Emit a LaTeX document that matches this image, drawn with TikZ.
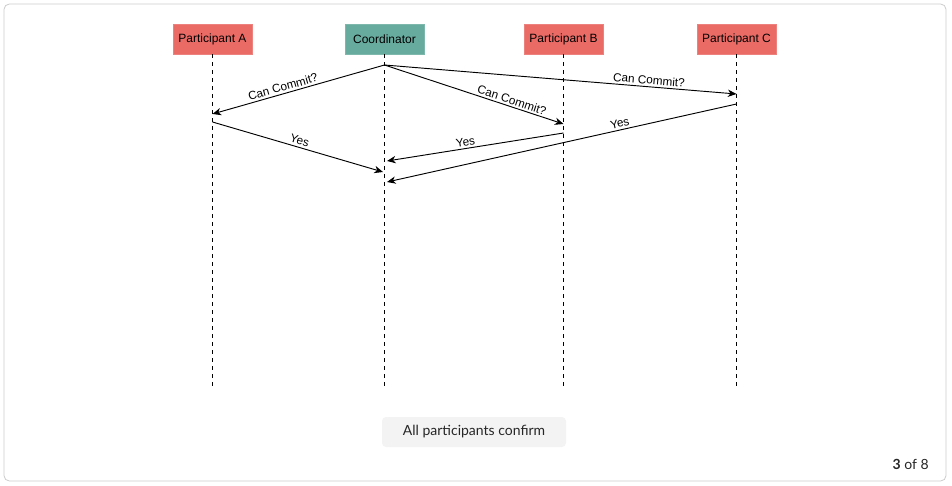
\documentclass[tikz,border=0pt]{standalone}
\usepackage{fontspec}
\setmainfont{Liberation Sans}
\newfontfamily\uifont{Lato}
\usetikzlibrary{arrows.meta}
\definecolor{partred}{HTML}{EA6B66}
\definecolor{coordteal}{HTML}{67AB9F}
\definecolor{btngray}{HTML}{F3F3F3}
\begin{document}
\begin{tikzpicture}
    [ x=.75pt, y=-.75pt, font=\fontsize{9}{10}\selectfont,
      actor/.style={fill=#1, draw=#1!85!white, minimum width=59.25pt,
                    minimum height=22.5pt, inner sep=0pt},
      lifeline/.style={dashed, line width=.6pt},
      msg/.style={-{Stealth[length=6.5pt,width=5.5pt,inset=2pt]}, line width=.7pt},
      lbl/.style={sloped, above, inner sep=1.5pt, font=\fontsize{8.8}{10}\selectfont},
    ]
    \useasboundingbox (0,0) rectangle (952,485);
    \draw[rounded corners=4pt, draw=black!20, line width=.6pt] (4,4) rectangle (946,481);

    % participants and their lifelines
    \foreach \n / \x / \col / \txt in {A/212.5/partred/Participant A,
                                      K/384.5/coordteal/Coordinator,
                                      B/563.5/partred/Participant B,
                                      C/736.5/partred/Participant C} {
        \node[actor=\col] (\n) at (\x, 39) {\txt};
        \coordinate (\n end) at (\x, 390);
        \draw[lifeline] (\n) -- (\n end);
    }

    % phase one: ask
    \coordinate (ask) at (384.5, 65);
    \coordinate (askA) at (212.5, 114);
    \coordinate (askB) at (563.5, 124);
    \coordinate (askC) at (736.5, 94);
    \draw[msg] (ask) -- (askA) node [lbl, pos=.58] {Can Commit?};
    \draw[msg] (ask) -- (askB) node [lbl, pos=.70] {Can Commit?};
    \draw[msg] (ask) -- (askC) node [lbl, pos=.75] {Can Commit?};

    % phase one: vote
    \coordinate (yesA) at (212.5, 122);
    \coordinate (yesB) at (563.5, 133);
    \coordinate (yesC) at (736.5, 104);
    \coordinate (gotA) at (383, 172);
    \coordinate (gotB) at (387, 161);
    \coordinate (gotC) at (387, 182);
    \draw[msg] (yesA) -- (gotA) node [lbl, pos=.50] {Yes};
    \draw[msg] (yesB) -- (gotB) node [lbl, pos=.55] {Yes};
    \draw[msg] (yesC) -- (gotC) node [lbl, pos=.33] {Yes};

    \node[fill=btngray, rounded corners=3pt, minimum width=138pt, minimum height=22.5pt,
          font=\uifont\fontsize{10.5}{12}\selectfont, text=black!85] (confirm) at (474, 432)
          {All participants confirm};
    \node[anchor=east, inner sep=0pt, font=\uifont\fontsize{10.5}{12}\selectfont,
          text=black!85] (page) at (929, 464) {\textbf{3} of 8};
\end{tikzpicture}
\end{document}
